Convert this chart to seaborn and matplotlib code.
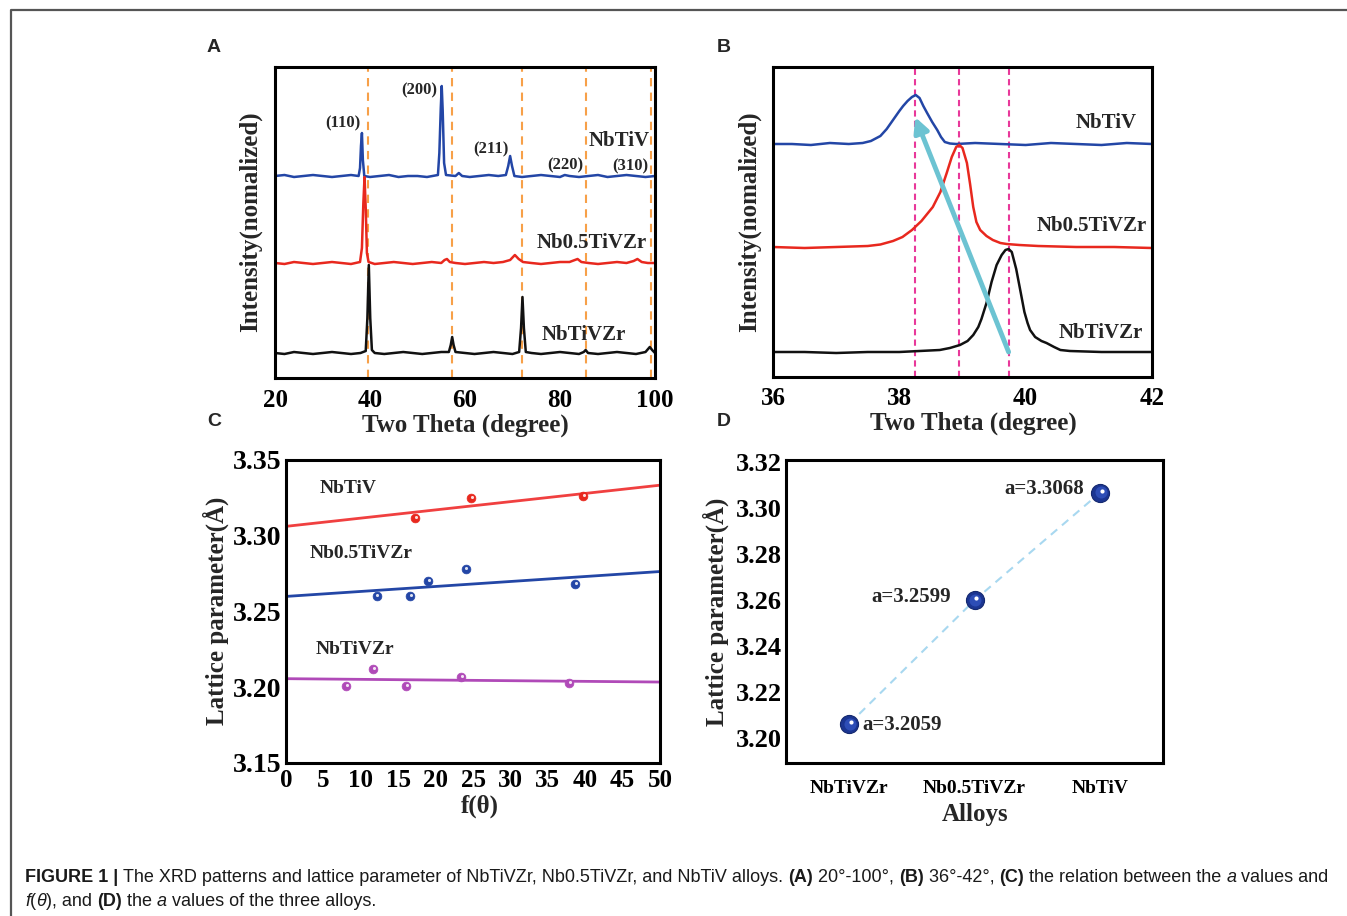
import numpy as np
import pandas as pd
import matplotlib
matplotlib.use('Agg')
import matplotlib.pyplot as plt
import matplotlib.transforms as mtransforms
from matplotlib.lines import Line2D
from matplotlib.ticker import MultipleLocator, FormatStrFormatter
import seaborn as sns

# ---------------- data ----------------
# panel A : XRD 20-100 deg, intensity in plot units (stacked patterns)
xrd_wide_nbtiv = [(20, 202), (22, 203), (24, 201), (26, 202), (28, 203), (30, 202), (32, 201), (34, 202),
                  (36, 203), (37.6, 202), (37.9, 210), (38.1, 232), (38.3, 245), (38.5, 218), (38.8, 202),
                  (40, 201), (42, 202), (44, 203), (46, 201), (48, 202), (50, 202), (52, 201), (54.3, 203),
                  (54.6, 225), (54.9, 270), (55.1, 292), (55.3, 268), (55.6, 215), (56, 203), (58, 202),
                  (58.7, 205), (59.4, 202), (61, 201), (63, 202), (65, 203), (67, 202), (68.6, 203),
                  (69.1, 212), (69.5, 222), (69.9, 212), (70.4, 202), (72, 201), (74, 202), (76, 203),
                  (78, 202), (80, 201), (81, 203), (82, 202), (84, 201), (86, 202), (88, 203), (90, 201),
                  (92, 202), (94, 203), (96, 202), (98, 201), (100, 202)]
xrd_wide_nb05 = [(20, 115), (22, 114), (24, 116), (26, 115), (28, 114), (30, 115), (32, 116), (34, 115),
                 (36, 114), (37.9, 116), (38.3, 130), (38.6, 175), (38.85, 201), (39.1, 170), (39.35, 125),
                 (39.7, 116), (41, 114), (43, 115), (45, 116), (47, 115), (49, 114), (51, 115), (53, 116),
                 (55, 115), (55.7, 118), (56.2, 119), (56.8, 116), (58, 115), (60, 114), (62, 115), (64, 116),
                 (66, 115), (68, 116), (69.5, 118), (70.5, 123), (71.3, 119), (72.2, 116), (74, 115),
                 (76, 114), (78, 115), (80, 116), (82, 116), (83.7, 119), (84.5, 116), (86, 115), (88, 114),
                 (90, 115), (92, 116), (94, 115), (95.5, 117), (96.3, 119), (97.2, 116), (98.5, 115), (100, 115)]
xrd_wide_nbtivzr = [(20, 25), (22, 24), (24, 26), (26, 25), (28, 24), (30, 25), (32, 26), (34, 25), (36, 24),
                    (38, 25), (39.1, 27), (39.45, 60), (39.75, 113), (40.05, 60), (40.4, 28), (41, 25),
                    (43, 24), (45, 25), (47, 26), (49, 25), (51, 24), (53, 25), (55, 26), (56.6, 26),
                    (57.0, 33), (57.3, 41), (57.6, 33), (58, 26), (60, 25), (62, 24), (64, 25), (66, 26),
                    (68, 25), (70, 24), (71.4, 26), (71.8, 50), (72.1, 81), (72.4, 50), (72.8, 26), (74, 25),
                    (76, 24), (78, 25), (80, 26), (82, 25), (84, 24), (85.0, 26), (85.4, 28), (85.9, 25),
                    (88, 24), (90, 25), (92, 26), (94, 25), (96, 24), (98, 26), (98.9, 31), (99.4, 28), (100, 25)]
peak_lines_wide = [39.65, 57.3, 72.1, 85.4, 99.1]
hkl_labels = ['(110)', '(200)', '(211)', '(220)', '(310)']
hkl_pos = [(34.3, 255), (50.4, 288), (65.4, 229), (81.1, 213), (94.8, 212)]

# panel B : zoom 36-42 deg
xrd_zoom_nbtiv = [(36, 233), (36.3, 233), (36.6, 232), (36.9, 234), (37.2, 233), (37.42, 234), (37.55, 236),
                  (37.7, 241), (37.8, 248), (37.9, 257), (38.0, 266), (38.06, 271), (38.13, 276), (38.2, 280),
                  (38.26, 282), (38.32, 279), (38.38, 271), (38.44, 264), (38.52, 255), (38.6, 247),
                  (38.66, 240), (38.72, 235), (38.8, 233.5), (38.9, 233), (39.2, 234), (39.6, 233), (40, 232),
                  (40.4, 234), (40.8, 233), (41.2, 232), (41.6, 234), (42, 233)]
xrd_zoom_nb05 = [(36, 130), (36.5, 129), (37, 130), (37.5, 131), (37.7, 132.5), (37.9, 136), (38.05, 140),
                 (38.2, 147), (38.35, 156), (38.53, 170), (38.65, 185), (38.75, 204), (38.83, 220), (38.9, 230),
                 (38.95, 232), (39.0, 229), (39.07, 214), (39.12, 193), (39.17, 170), (39.22, 155),
                 (39.28, 147), (39.38, 141), (39.48, 137), (39.6, 134), (39.7, 133), (39.9, 132), (40.2, 131),
                 (40.8, 130), (41.4, 130), (42, 129)]
xrd_zoom_nbtivzr = [(36, 25), (36.5, 25), (37, 24), (37.5, 25), (38, 25), (38.64, 27), (38.8, 29), (38.96, 32),
                    (39.08, 36), (39.17, 42), (39.25, 50), (39.3, 58), (39.38, 74), (39.46, 95), (39.54, 112),
                    (39.62, 122), (39.68, 127), (39.73, 128), (39.78, 125), (39.85, 108), (39.92, 85),
                    (39.98, 65), (40.03, 54), (40.07, 47), (40.15, 40), (40.25, 36), (40.33, 34), (40.45, 30),
                    (40.55, 27), (40.7, 26), (41.2, 25), (41.6, 25), (42, 25)]
peak_lines_zoom = [38.25, 38.95, 39.73]

# panel C : lattice parameter vs f(theta)
f_nbtiv = [17.3, 24.7, 39.7]
a_nbtiv = [3.312, 3.325, 3.326]
f_nb05 = [12.1, 16.6, 19.0, 24.0, 38.6]
a_nb05 = [3.260, 3.260, 3.270, 3.278, 3.268]
f_nbtivzr = [8.0, 11.6, 16.1, 23.4, 37.9]
a_nbtivzr = [3.201, 3.212, 3.201, 3.207, 3.203]

# panel D : extrapolated a values
alloys = ['NbTiVZr', 'Nb0.5TiVZr', 'NbTiV']
a_values = [3.2059, 3.2599, 3.3068]

# ---------------- style ----------------
sns.set_theme(style='white')
plt.rcParams['font.family'] = ['Liberation Serif', 'DejaVu Serif']
plt.rcParams['font.weight'] = 'bold'
plt.rcParams['axes.edgecolor'] = 'black'
plt.rcParams['axes.linewidth'] = 2.2

W, H = 1347, 916
fig = plt.figure(figsize=(W / 100, H / 100), dpi=100)
fig.patch.set_facecolor('white')

BLUE = '#2346a6'
RED = '#e8281e'
BLACK = '#111111'
PURPLE = '#b04ab8'


def px_axes(l, t, r, b):
    return fig.add_axes([l / W, 1 - b / H, (r - l) / W, (b - t) / H])


def ftext(x, y, s, **kw):
    return fig.text(x / W, 1 - y / H, s, **kw)


def style_ticks(ax, yticks=True, ysize=19):
    ax.tick_params(axis='both', which='both', direction='in', top=False, right=False,
                   width=2, colors='black')
    ax.tick_params(axis='x', labelsize=18)
    ax.tick_params(axis='y', labelsize=ysize)
    ax.tick_params(axis='both', which='major', length=7, pad=6)
    ax.tick_params(axis='both', which='minor', length=4)
    for lab in ax.get_xticklabels() + ax.get_yticklabels():
        lab.set_fontweight('bold')
    if not yticks:
        ax.set_yticks([])
    ax.set_xlabel('')
    ax.set_ylabel('')


def draw_xrd(ax, pts, color):
    df = pd.DataFrame(pts, columns=['two_theta', 'intensity'])
    sns.lineplot(data=df, x='two_theta', y='intensity', color=color, lw=1.8,
                 estimator=None, ax=ax)


# ---------------- panel A ----------------
axA = px_axes(275, 67, 655, 378)
for x in peak_lines_wide:
    axA.axvline(x, color='#f7a048', ls=(0, (4, 3)), lw=1.5, zorder=1)
draw_xrd(axA, xrd_wide_nbtiv, BLUE)
draw_xrd(axA, xrd_wide_nb05, RED)
draw_xrd(axA, xrd_wide_nbtivzr, BLACK)
axA.set_xlim(20, 100)
axA.set_ylim(0, 311)
axA.xaxis.set_major_locator(MultipleLocator(20))
axA.xaxis.set_minor_locator(MultipleLocator(10))
style_ticks(axA, yticks=False)
axA.tick_params(axis='x', pad=8)
for lab, (x, y) in zip(hkl_labels, hkl_pos):
    axA.text(x, y, lab, ha='center', va='center', fontsize=12, fontweight='bold')
axA.text(98.9, 237, 'NbTiV', ha='right', va='center', fontsize=15, fontweight='bold')
axA.text(98.3, 135, 'Nb0.5TiVZr', ha='right', va='center', fontsize=15, fontweight='bold')
axA.text(85.1, 43, 'NbTiVZr', ha='center', va='center', fontsize=15, fontweight='bold')
ftext(250, 222, 'Intensity(nomalized)', rotation=90, ha='center', va='center', fontsize=18, fontweight='bold')
ftext(465, 425, 'Two Theta (degree)', ha='center', va='center', fontsize=18, fontweight='bold')

# ---------------- panel B ----------------
axB = px_axes(773, 67, 1152, 377)
for x in peak_lines_zoom:
    axB.axvline(x, color='#e8389a', ls=(0, (3, 2)), lw=1.5, zorder=1)
draw_xrd(axB, xrd_zoom_nbtiv, BLUE)
draw_xrd(axB, xrd_zoom_nb05, RED)
draw_xrd(axB, xrd_zoom_nbtivzr, BLACK)
axB.set_xlim(36, 42)
axB.set_ylim(0, 310)
axB.xaxis.set_major_locator(MultipleLocator(2))
axB.xaxis.set_minor_locator(MultipleLocator(1))
style_ticks(axB, yticks=False)
axB.tick_params(axis='x', pad=7)
axB.annotate('', xy=(peak_lines_zoom[0], 260), xytext=(peak_lines_zoom[2], 25),
             arrowprops=dict(arrowstyle='-|>', color='#6cc3d2', lw=3.5, mutation_scale=22,
                             shrinkA=0, shrinkB=0))
axB.text(41.28, 254, 'NbTiV', ha='center', va='center', fontsize=15, fontweight='bold')
axB.text(41.05, 151, 'Nb0.5TiVZr', ha='center', va='center', fontsize=15, fontweight='bold')
axB.text(41.19, 44, 'NbTiVZr', ha='center', va='center', fontsize=15, fontweight='bold')
ftext(749, 222, 'Intensity(nomalized)', rotation=90, ha='center', va='center', fontsize=18, fontweight='bold')
ftext(973, 423, 'Two Theta (degree)', ha='center', va='center', fontsize=18, fontweight='bold')

# ---------------- panel C ----------------
axC = px_axes(286, 460, 660, 763)
axC.set_xlim(0, 50)
axC.set_ylim(3.15, 3.35)
series_c = [(f_nbtiv, a_nbtiv, RED, '#f04040'),
            (f_nb05, a_nb05, BLUE, BLUE),
            (f_nbtivzr, a_nbtivzr, PURPLE, PURPLE)]
for fx, ay, mcol, lcol in series_c:
    df = pd.DataFrame({'f': fx, 'a': ay})
    sns.regplot(data=df, x='f', y='a', ci=None, truncate=False, scatter=False,
                line_kws=dict(color=lcol, lw=2.0), ax=axC)
    sns.scatterplot(data=df, x='f', y='a', color=mcol, s=40, edgecolor=mcol, linewidth=0.5,
                    ax=axC, zorder=3)
    hl = mtransforms.offset_copy(axC.transData, fig=fig, x=0.7, y=0.7, units='points')
    axC.scatter(fx, ay, s=5, color='white', alpha=0.85, transform=hl, zorder=4, linewidths=0)
axC.set_xlim(0, 50)
axC.xaxis.set_major_locator(MultipleLocator(5))
axC.xaxis.set_minor_locator(MultipleLocator(2.5))
axC.yaxis.set_major_locator(MultipleLocator(0.05))
axC.yaxis.set_minor_locator(MultipleLocator(0.025))
axC.yaxis.set_major_formatter(FormatStrFormatter('%.2f'))
style_ticks(axC, ysize=20)
axC.tick_params(axis='y', pad=3)
axC.tick_params(axis='x', pad=4)
axC.text(4.5, 3.331, 'NbTiV', ha='left', va='center', fontsize=14, fontweight='bold')
axC.text(3.1, 3.288, 'Nb0.5TiVZr', ha='left', va='center', fontsize=14, fontweight='bold')
axC.text(4.0, 3.225, 'NbTiVZr', ha='left', va='center', fontsize=14, fontweight='bold')
ftext(216, 611, 'Lattice parameter(Å)', rotation=90, ha='center', va='center', fontsize=18, fontweight='bold')
ftext(480, 806, 'f(θ)', ha='center', va='center', fontsize=18, fontweight='bold')

# ---------------- panel D ----------------
axD = px_axes(786, 460, 1163, 763)
dfD = pd.DataFrame({'pos': [1, 2, 3], 'a': a_values, 'alloy': alloys})
sns.lineplot(data=dfD, x='pos', y='a', color='#a8d8f0', lw=1.5, ls=(0, (4, 3)), ax=axD)
sns.scatterplot(data=dfD, x='pos', y='a', color='#1b3592', s=170, edgecolor='#15296f',
                linewidth=0.8, ax=axD, zorder=3)
mid = mtransforms.offset_copy(axD.transData, fig=fig, x=0.5, y=0.5, units='points')
axD.scatter(dfD['pos'], dfD['a'], s=75, color='#2d4db6', transform=mid, zorder=4, linewidths=0)
hi = mtransforms.offset_copy(axD.transData, fig=fig, x=1.4, y=1.4, units='points')
axD.scatter(dfD['pos'], dfD['a'], s=9, color='white', transform=hi, zorder=5, linewidths=0)
axD.set_xlim(0.5, 3.5)
axD.set_ylim(3.189, 3.321)
axD.set_xticks([1, 2, 3])
axD.set_xticklabels(alloys)
axD.xaxis.set_minor_locator(MultipleLocator(0.5))
axD.yaxis.set_major_locator(MultipleLocator(0.02))
axD.yaxis.set_minor_locator(MultipleLocator(0.01))
axD.yaxis.set_major_formatter(FormatStrFormatter('%.2f'))
style_ticks(axD, ysize=19)
axD.tick_params(axis='x', labelsize=14, pad=12)
axD.tick_params(axis='y', pad=3)
lab_off = [(0.11, -0.0002, 'left'), (-0.19, 0.0012, 'right'), (-0.13, 0.0015, 'right')]
for (p, v), (dx, dy, ha) in zip(zip(dfD['pos'], dfD['a']), lab_off):
    axD.text(p + dx, v + dy, f'a={v:.4f}', ha=ha, va='center', fontsize=15, fontweight='bold')
ftext(716, 612, 'Lattice parameter(Å)', rotation=90, ha='center', va='center', fontsize=18, fontweight='bold')
ftext(975, 815, 'Alloys', ha='center', va='center', fontsize=18, fontweight='bold')

# ---------------- panel letters, frame, caption ----------------
for letter, (x, y) in zip('ABCD', [(214, 48), (724, 48), (214, 421), (724, 421)]):
    ftext(x, y, letter, ha='center', va='center', fontsize=14, fontweight='bold',
          family=['Liberation Sans', 'DejaVu Sans'])

fig.add_artist(Line2D([11 / W, 11 / W, 1.0], [0.0, 1 - 10 / H, 1 - 10 / H],
                      transform=fig.transFigure, color='#555555', lw=1.6))

cap_family = ['Liberation Sans', 'DejaVu Sans']
renderer = fig.canvas.get_renderer()


def measure(s, **kw):
    t1 = fig.text(0, 0, s + '.', **kw)
    t2 = fig.text(0, 0, '.', **kw)
    w = t1.get_window_extent(renderer).width - t2.get_window_extent(renderer).width
    t1.remove()
    t2.remove()
    return w


def rich_line(pieces, x0, y0, size):
    x = x0
    for txt, st in pieces:
        kw = dict(family=cap_family, fontsize=size, color='#1a1a1a',
                  fontweight='bold' if st == 'b' else 'normal',
                  fontstyle='italic' if st == 'i' else 'normal')
        fig.text(x / W, 1 - y0 / H, txt, ha='left', va='baseline', **kw)
        x += measure(txt, **kw)


cap1 = [('FIGURE 1 | ', 'b'),
        ('The XRD patterns and lattice parameter of NbTiVZr, Nb0.5TiVZr, and NbTiV alloys. ', 'r'),
        ('(A)', 'b'), (' 20°-100°, ', 'r'), ('(B)', 'b'), (' 36°-42°, ', 'r'), ('(C)', 'b'),
        (' the relation between the ', 'r'), ('a', 'i'), (' values and', 'r')]
cap2 = [('f', 'i'), ('(', 'r'), ('θ', 'i'), ('), and ', 'r'), ('(D)', 'b'), (' the ', 'r'),
        ('a', 'i'), (' values of the three alloys.', 'r')]
rich_line(cap1, 25, 882, 12.95)
rich_line(cap2, 25, 906, 12.95)

fig.savefig('out.png', dpi=100, facecolor='white')
